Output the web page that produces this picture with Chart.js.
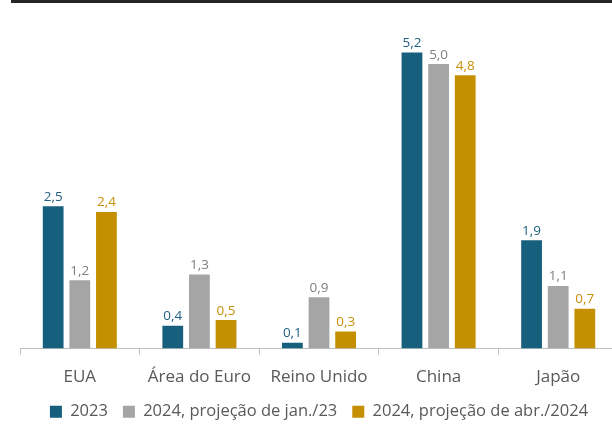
<!DOCTYPE html>
<html>
<head>
<meta charset="utf-8">
<script src="https://cdn.jsdelivr.net/npm/chart.js@4"></script>
<style>
  body { margin: 0; background: #fff; }
  #wrap { position: relative; width: 612px; height: 426px; overflow: hidden; }
  #topline { position: absolute; left: 11px; right: 0; top: 0; height: 3px; background: #262626; z-index: 2; }
  #myChart { position: absolute; left: 0; top: 0; }
</style>
</head>
<body>
<div id="wrap">
  <div id="topline"></div>
  <canvas id="myChart" width="620" height="430"></canvas>
</div>
<script>
// categorias e séries
const categories = ['EUA', 'Área do Euro', 'Reino Unido', 'China', 'Japão'];
const seriesNames = ['2023', '2024, projeção de jan./23', '2024, projeção de abr./2024'];
const values2023 = [2.5, 0.4, 0.1, 5.2, 1.9];
const valuesJan = [1.2, 1.3, 0.9, 5.0, 1.1];
const valuesAbr = [2.4, 0.5, 0.3, 4.8, 0.7];

const barColors = ['#17607d', '#a5a5a5', '#c48f00'];
const labelColors = ['#1f5f7f', '#7f7f7f', '#c8900a'];
const font = '"Open Sans", "Noto Sans", sans-serif';

// rótulos de valor em cima das barras
const valueLabels = {
  id: 'valueLabels',
  afterDatasetsDraw(chart) {
    const ctx = chart.ctx;
    ctx.save();
    ctx.font = '13.5px ' + font;
    ctx.textAlign = 'center';
    ctx.textBaseline = 'bottom';
    chart.data.datasets.forEach((ds, i) => {
      const meta = chart.getDatasetMeta(i);
      meta.data.forEach((bar, j) => {
        ctx.fillStyle = labelColors[i];
        ctx.fillText(ds.data[j].toFixed(1).replace('.', ','), bar.x, bar.y - 2.5);
      });
    });
    ctx.restore();
  }
};

const data = {
  labels: categories,
  datasets: [
    { label: seriesNames[0], data: values2023, backgroundColor: barColors[0] },
    { label: seriesNames[1], data: valuesJan, backgroundColor: barColors[1] },
    { label: seriesNames[2], data: valuesAbr, backgroundColor: barColors[2] }
  ].map(d => Object.assign(d, { categoryPercentage: 0.668, barPercentage: 0.78 }))
};

const config = {
  type: 'bar',
  data: data,
  options: {
    responsive: false,
    animation: false,
    layout: { padding: { left: 20, right: 2, top: 7, bottom: 0 } },
    plugins: {
      legend: {
        position: 'bottom',
        labels: {
          boxWidth: 12, boxHeight: 12, padding: 15,
          color: '#595959',
          font: { family: font, size: 16.5 }
        }
      },
      tooltip: { enabled: false }
    },
    scales: {
      x: {
        grid: { offset: true, drawOnChartArea: false, color: '#bfbfbf', tickLength: 6 },
        border: { color: '#bfbfbf' },
        ticks: { color: '#595959', padding: 12, font: { family: font, size: 17 } },
        afterFit(scale) { scale.height = 40; }
      },
      y: {
        min: 0, max: 6,
        display: false
      }
    }
  },
  plugins: [valueLabels]
};

const myChart = new Chart(document.getElementById('myChart'), config);
</script>
</body>
</html>
